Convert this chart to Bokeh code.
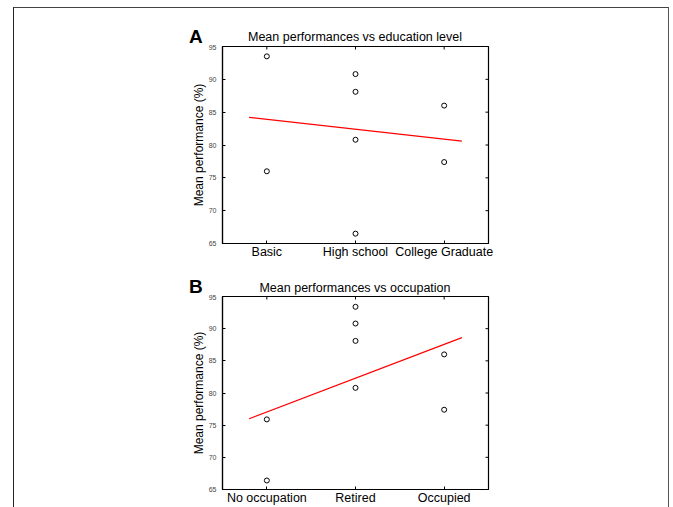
import math
from bokeh.plotting import figure
from bokeh.models import FixedTicker, Range1d, Div
from bokeh.layouts import column
from bokeh.embed import file_html
from bokeh.resources import INLINE

# ---- data ----
edu_categories = ["Basic", "High school", "College Graduate"]
edu_x = [1, 1, 2, 2, 2, 2, 3, 3]
edu_perf = [93.5, 76.0, 90.8, 88.1, 80.8, 66.5, 86.0, 77.4]
edu_fit_x = [0.8, 3.2]
edu_fit_y = [84.2, 80.6]

occ_categories = ["No occupation", "Retired", "Occupied"]
occ_x = [1, 1, 2, 2, 2, 2, 3, 3]
occ_perf = [75.9, 66.4, 93.4, 90.8, 88.1, 80.8, 86.0, 77.4]
occ_fit_x = [0.8, 3.2]
occ_fit_y = [76.0, 88.6]

y_ticks = [65, 70, 75, 80, 85, 90, 95]
cat_pos = [1, 2, 3]
X_LO, X_HI = 0.5, 3.5
Y_LO, Y_HI = 65, 95

FONT = "Liberation Sans"
W = 654
LEFT, RIGHT = 208, 180


def header(letter, title, height, letter_top, title_top):
    html = (
        f'<div style="position:relative;width:{W}px;height:{height}px;'
        f'font-family:\'{FONT}\';color:black;">'
        f'<span style="position:absolute;left:175px;top:{letter_top}px;font-size:19px;'
        f'line-height:19px;font-weight:bold;white-space:nowrap;">{letter}</span>'
        f'<span style="position:absolute;left:{LEFT}px;width:{W - LEFT - RIGHT}px;'
        f'top:{title_top}px;font-size:12.5px;line-height:12px;text-align:center;'
        f'white-space:nowrap;">{title}</span>'
        '</div>'
    )
    return Div(text=html, width=W, height=height, margin=0)


def make_panel(cats, xs, ys, fx, fy, height, top, bottom):
    p = figure(width=W, height=height, output_backend="svg", toolbar_location=None,
               x_range=Range1d(X_LO, X_HI), y_range=Range1d(Y_LO, Y_HI),
               min_border_left=LEFT, min_border_right=RIGHT,
               min_border_top=top, min_border_bottom=bottom, margin=0)
    p.title.visible = False
    p.xgrid.visible = False
    p.ygrid.visible = False
    p.background_fill_color = "white"
    p.border_fill_color = "white"
    p.outline_line_color = "black"
    p.outline_line_width = 1.2

    xa = p.xaxis[0]
    xa.ticker = FixedTicker(ticks=cat_pos)
    xa.major_label_overrides = {c: lab for c, lab in zip(cat_pos, cats)}
    xa.major_label_text_font = FONT
    xa.major_label_text_font_size = "12.5px"
    xa.major_label_text_color = "black"
    xa.major_label_standoff = 1
    xa.major_tick_in = 3
    xa.major_tick_out = 0
    xa.minor_tick_line_color = None
    xa.axis_line_color = "black"
    xa.axis_line_width = 1.2

    ya = p.yaxis[0]
    ya.ticker = FixedTicker(ticks=y_ticks)
    ya.major_label_text_font = FONT
    ya.major_label_text_font_size = "7px"
    ya.major_label_text_color = "#444444"
    ya.major_label_standoff = 6
    ya.major_tick_in = 3
    ya.major_tick_out = 0
    ya.minor_tick_line_color = None
    ya.axis_line_color = "black"
    ya.axis_line_width = 1.2
    ya.axis_label = "Mean performance (%)"
    ya.axis_label_text_font = FONT
    ya.axis_label_text_font_size = "12px"
    ya.axis_label_text_font_style = "normal"
    ya.axis_label_text_color = "black"
    ya.axis_label_standoff = 0

    # inward tick marks on the right and top edges (outer half clipped by the frame)
    p.scatter([X_HI] * len(y_ticks), y_ticks, marker="dash", size=6,
              line_color="black", line_width=1)
    p.scatter(cat_pos, [Y_HI] * len(cat_pos), marker="dash", size=6, angle=math.pi / 2,
              line_color="black", line_width=1)

    p.line(fx, fy, line_color="#ff0000", line_width=1.2)
    p.scatter(xs, ys, marker="circle", size=5, fill_color=None,
              line_color="black", line_width=1)
    return p


hA = header("A", "Mean performances vs education level", 36, 19, 23)
pA = make_panel(edu_categories, edu_x, edu_perf, edu_fit_x, edu_fit_y,
                height=221, top=2, bottom=22)
hB = header("B", "Mean performances vs occupation", 29, 12, 17)
pB = make_panel(occ_categories, occ_x, occ_perf, occ_fit_x, occ_fit_y,
                height=213, top=2, bottom=17)

layout = column(hA, pA, hB, pB, spacing=0,
                styles={"border-top": "1px solid #444444",
                        "border-left": "1px solid #222222",
                        "border-right": "1px solid #555555",
                        "margin-left": "13px",
                        "margin-top": "7px"})

open("out.html", "w").write(file_html(layout, INLINE))
